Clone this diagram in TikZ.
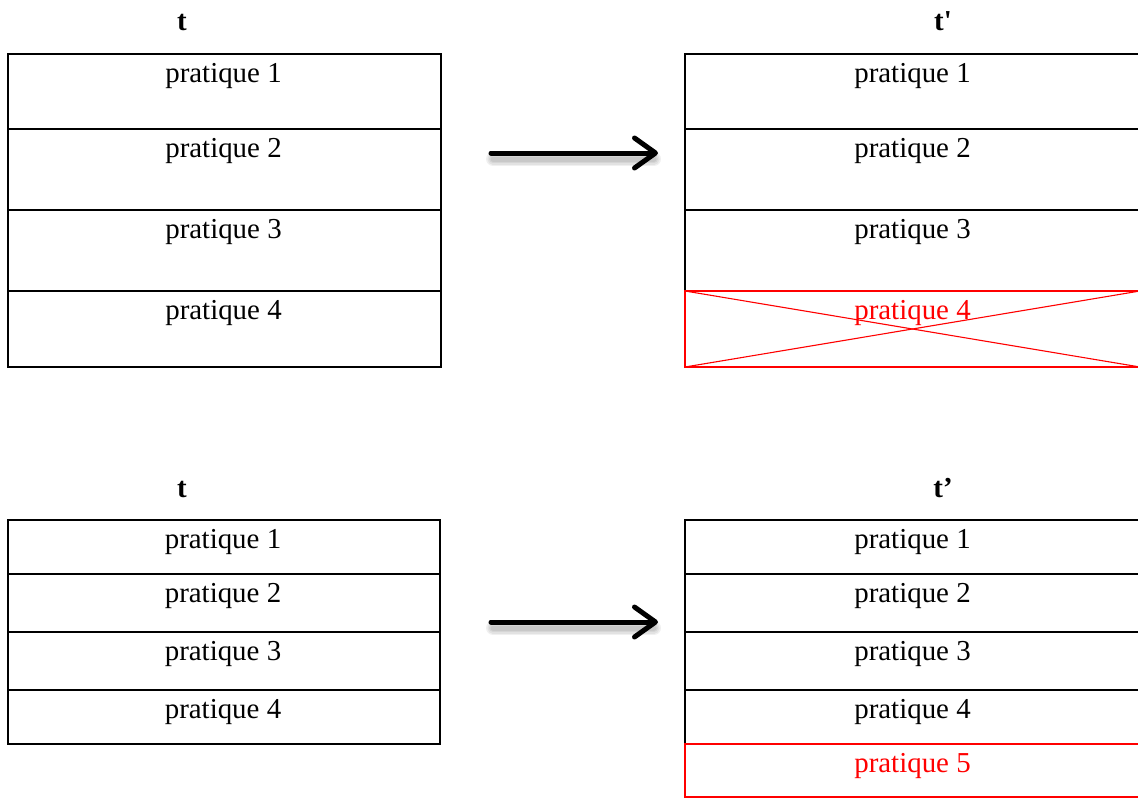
\documentclass[tikz,border=0pt]{standalone}
\usepackage{fontspec}
\setmainfont{Liberation Serif}
% plain family without TeX ligatures, so ' stays a straight quote
\newfontfamily\rawserif{Liberation Serif}
\usetikzlibrary{arrows.meta}
\definecolor{delred}{RGB}{255,0,0}
\tikzset{
  rowbox/.style={draw=black, line width=1.6pt, inner sep=0pt, outer sep=0pt,
    anchor=north west, minimum height=#1},
  leftcol/.style={minimum width=433pt},
  rightcol/.style={minimum width=455pt},
  lbl/.style={anchor=base, inner sep=0pt, font=\fontsize{28.9}{34}\selectfont},
  head/.style={anchor=base, inner sep=0pt, font=\fontsize{28.9}{34}\selectfont\bfseries},
  bigarrow/.style={line width=5pt, line cap=round,
    -{Straight Barb[length=21pt, width=30pt, line width=5pt, round]}},
  arrowshade/.style={line width=#1, line cap=round, draw=black, opacity=0.06},
}
\begin{document}
\begin{tikzpicture}[x=1pt, y=-1pt]
\useasboundingbox (0,0) rectangle (1138,798);

% ---------- upper diagram ----------
\node[head] (tA) at (182,30) {t};
\node[head] (tB) at (943,30) {t{\rawserif\bfseries '}};

% left column
\node[rowbox=75pt, leftcol] (A1) at (8,54) {};
\node[rowbox=81pt, leftcol] (A2) at (8,129) {};
\node[rowbox=81pt, leftcol] (A3) at (8,210) {};
\node[rowbox=76pt, leftcol] (A4) at (8,291) {};
\foreach \i in {1,...,4}
  \node[lbl] (LA\i) at ([xshift=-1pt, yshift=-28.5pt]A\i.north) {pratique \i};

% right column
\node[rowbox=75pt, rightcol] (B1) at (685,54) {};
\node[rowbox=81pt, rightcol] (B2) at (685,129) {};
\node[rowbox=81pt, rightcol] (B3) at (685,210) {};
\foreach \i in {1,...,3}
  \node[lbl] (LB\i) at ([yshift=-28.5pt]B\i.north) {pratique \i};
\node[rowbox=76pt, rightcol, draw=delred, line width=1.4pt] (B4) at (685,291) {};
\node[lbl, text=delred] (LB4) at ([yshift=-28.5pt]B4.north) {pratique 4};
\draw[delred, line width=1.1pt] (B4.north west) -- (B4.south east);
\draw[delred, line width=1.1pt] (B4.south west) -- (B4.north east);

% arrow with soft shadow
\coordinate (p0) at (491,153);
\coordinate (p1) at (658,153);
\foreach \w in {14,11,8,5}
  \draw[arrowshade=\w pt] ([shift={(2,6)}]p0) -- ([shift={(-4,6)}]p1);
\draw[bigarrow] (p0) -- (p1);

% ---------- lower diagram ----------
\node[head] (tC) at (182,497) {t};
\node[head] (tD) at (943,497) {t’};

\node[rowbox=54pt, leftcol, minimum width=432pt] (C1) at (8,520) {};
\node[rowbox=58pt, leftcol, minimum width=432pt] (C2) at (8,574) {};
\node[rowbox=58pt, leftcol, minimum width=432pt] (C3) at (8,632) {};
\node[rowbox=54pt, leftcol, minimum width=432pt] (C4) at (8,690) {};
\foreach \i in {1,...,4}
  \node[lbl] (LC\i) at ([xshift=-1pt, yshift=-28.5pt]C\i.north) {pratique \i};

\node[rowbox=54pt, rightcol] (D1) at (685,520) {};
\node[rowbox=58pt, rightcol] (D2) at (685,574) {};
\node[rowbox=58pt, rightcol] (D3) at (685,632) {};
\node[rowbox=54pt, rightcol] (D4) at (685,690) {};
\foreach \i in {1,...,4}
  \node[lbl] (LD\i) at ([yshift=-28.5pt]D\i.north) {pratique \i};
\node[rowbox=53pt, rightcol, draw=delred, line width=1.4pt] (D5) at (685,744) {};
\node[lbl, text=delred] (LD5) at ([yshift=-28.5pt]D5.north) {pratique 5};

\coordinate (q0) at (491,622);
\coordinate (q1) at (658,622);
\foreach \w in {14,11,8,5}
  \draw[arrowshade=\w pt] ([shift={(2,6)}]q0) -- ([shift={(-4,6)}]q1);
\draw[bigarrow] (q0) -- (q1);
\end{tikzpicture}
\end{document}
